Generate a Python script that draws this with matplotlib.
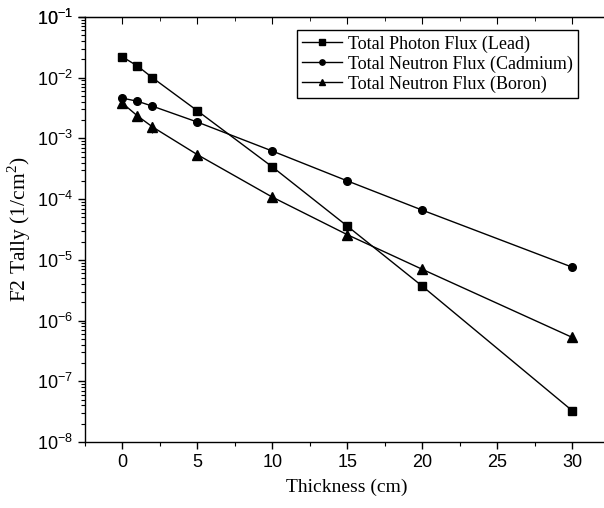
import numpy as np
import matplotlib
matplotlib.use("Agg")
import matplotlib.pyplot as plt
from matplotlib.ticker import FuncFormatter, FixedLocator, MultipleLocator, NullFormatter

plt.rcParams['font.family'] = 'Liberation Sans'
plt.rcParams['mathtext.fontset'] = 'custom'
plt.rcParams['mathtext.rm'] = 'Liberation Serif'
plt.rcParams['mathtext.sf'] = 'Liberation Sans'

# data
thickness = [0, 1, 2, 5, 10, 15, 20, 30]
lead_photon = [2.2e-2, 1.56e-2, 1.0e-2, 2.85e-3, 3.4e-4, 3.6e-5, 3.7e-6, 3.3e-8]
cadmium_neutron = [4.6e-3, 4.1e-3, 3.4e-3, 1.86e-3, 6.2e-4, 2.0e-4, 6.6e-5, 7.6e-6]
boron_neutron = [3.8e-3, 2.35e-3, 1.55e-3, 5.4e-4, 1.08e-4, 2.6e-5, 7.0e-6, 5.3e-7]
boron_err = [0.6e-3, 0.4e-3, 0.3e-3, 0.9e-4, 0.1e-4, 0.3e-5, 0.4e-6, 0.2e-7]

labels = ["Total Photon Flux (Lead)",
          "Total Neutron Flux (Cadmium)",
          "Total Neutron Flux (Boron)"]
decades = list(range(-8, 0))

fig = plt.figure(figsize=(6.04, 5.08), dpi=100)
ax = fig.add_axes([85/604, 66/508, 524.5/604, 425/508])

ax.plot(thickness, lead_photon, 'k-s', lw=1, ms=5.5, label=labels[0])
ax.plot(thickness, cadmium_neutron, 'k-o', lw=1, ms=5.5, label=labels[1])
ax.errorbar(thickness, boron_neutron, yerr=boron_err, fmt='none', ecolor='k',
            elinewidth=0.8, capsize=0)
ax.plot(thickness, boron_neutron, 'k-^', lw=1, ms=6.5, label=labels[2])

ax.set_yscale('log')
ax.set_ylim(1e-8, 1e-1)
ax.set_xlim(-2.5, 32.5)

ax.xaxis.set_major_locator(MultipleLocator(5))
ax.xaxis.set_minor_locator(MultipleLocator(2.5))
ax.yaxis.set_major_locator(FixedLocator([10.0**k for k in decades + [-1]]))
ax.yaxis.set_minor_locator(FixedLocator([m * 10.0**k for k in decades for m in range(2, 10)]))
ax.yaxis.set_major_formatter(FuncFormatter(lambda v, p: r"$\mathsf{10^{%d}}$" % round(np.log10(v))))
ax.yaxis.set_minor_formatter(NullFormatter())

ax.tick_params(which='major', direction='out', length=5, width=1, labelsize=13)
ax.tick_params(which='minor', direction='out', length=3, width=0.8)

sec = ax.secondary_xaxis('top')
sec.set_xticks(range(0, 31, 5))
sec.xaxis.set_minor_locator(MultipleLocator(2.5))
sec.tick_params(which='major', direction='in', length=5, labeltop=False)
sec.tick_params(which='minor', direction='in', length=3)

for s in ax.spines.values():
    s.set_linewidth(1)

ax.set_xlabel("Thickness (cm)", family='Liberation Serif', fontsize=14, labelpad=6)
ax.set_ylabel(r"F2 Tally (1/cm$^{2}$)", family='Liberation Serif', fontsize=15.5, labelpad=3)

leg = fig.legend(loc='upper left', bbox_to_anchor=(297/604, 1 - 30/508),
                 prop={'family': 'Liberation Serif', 'size': 13},
                 fancybox=False, edgecolor='black', framealpha=1,
                 handlelength=2.2, handletextpad=0.3, labelspacing=0.15,
                 borderpad=0.3, markerscale=0.7, borderaxespad=0)
leg.get_frame().set_linewidth(1)

fig.savefig("out.png", dpi=100)
